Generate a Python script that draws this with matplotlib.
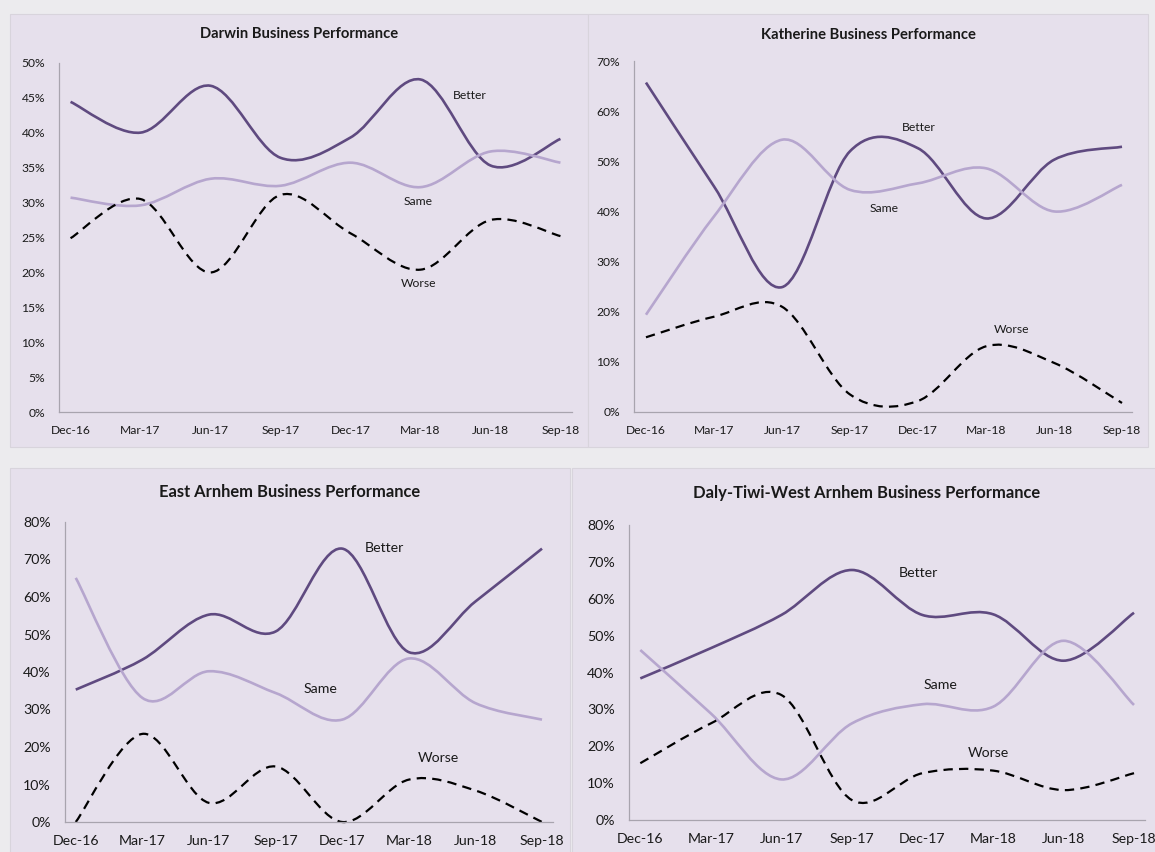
import matplotlib
matplotlib.use("Agg")
import matplotlib.pyplot as plt
from matplotlib.path import Path
from matplotlib.patches import PathPatch, Rectangle
from matplotlib.ticker import PercentFormatter

plt.rcParams['font.family'] = ['Lato', 'DejaVu Sans']

quarters = ["Dec-16", "Mar-17", "Jun-17", "Sep-17", "Dec-17", "Mar-18", "Jun-18", "Sep-18"]

darwin_better = [44.4, 40.0, 46.7, 36.4, 39.3, 47.6, 35.3, 39.1]
darwin_same   = [30.7, 29.6, 33.4, 32.4, 35.7, 32.2, 37.3, 35.7]
darwin_worse  = [24.9, 30.5, 20.0, 31.1, 25.6, 20.4, 27.5, 25.2]

katherine_better = [65.7, 45.0, 24.9, 52.0, 52.6, 38.6, 50.3, 52.9]
katherine_same   = [19.4, 39.0, 54.3, 44.3, 45.6, 48.6, 40.0, 45.3]
katherine_worse  = [14.9, 19.0, 21.0, 3.5, 2.2, 13.1, 9.8, 1.8]

east_better = [35.3, 43.3, 55.3, 50.8, 72.9, 45.3, 58.8, 72.9]
east_same   = [65.1, 33.1, 40.2, 34.4, 27.3, 43.6, 31.7, 27.3]
east_worse  = [0.0, 23.5, 5.1, 14.8, 0.0, 11.3, 8.4, 0.0]

daly_better = [38.4, 46.6, 55.6, 67.8, 55.6, 55.8, 43.2, 56.2]
daly_same   = [46.1, 28.9, 11.0, 26.2, 31.4, 30.7, 48.6, 31.2]
daly_worse  = [15.4, 26.2, 33.9, 5.4, 12.7, 13.4, 8.1, 12.7]

series_names = ["Better", "Same", "Worse"]

W, H = 1155, 852
fig = plt.figure(figsize=(W / 100, H / 100), dpi=100)
fig.patch.set_facecolor("#ECEBEE")

PANEL_BG = "#E6E0EC"
C_BETTER = "#5F4A80"
C_SAME = "#B6A6CE"
C_WORSE = "#000000"
AX_COL = "#A8A4AE"


def fig_rect(x0, y0, x1, y1):
    return [x0 / W, 1 - y1 / H, (x1 - x0) / W, (y1 - y0) / H]


def smooth_path(xs, ys):
    n = len(xs)
    pts = list(zip(xs, ys))
    verts = [pts[0]]
    codes = [Path.MOVETO]
    for i in range(n - 1):
        p0 = pts[i - 1] if i > 0 else pts[i]
        p1 = pts[i]
        p2 = pts[i + 1]
        p3 = pts[i + 2] if i + 2 < n else pts[i + 1]
        c1 = (p1[0] + (p2[0] - p0[0]) / 6, p1[1] + (p2[1] - p0[1]) / 6)
        c2 = (p2[0] - (p3[0] - p1[0]) / 6, p2[1] - (p3[1] - p1[1]) / 6)
        verts += [c1, c2, p2]
        codes += [Path.CURVE4] * 3
    return Path(verts, codes)


panels = [
    dict(box=(10, 14, 588, 447), ax=(59, 62.7, 572, 412.3), xlim=(-0.165, 7.165), ymax=50, ystep=5,
         title="Darwin Business Performance", title_xy=(299, 34), tfs=10.6, fs=8.7,
         data=[darwin_better, darwin_same, darwin_worse],
         labels=[(5.70, 45.25), (4.96, 30.2), (4.97, 18.4)]),
    dict(box=(588, 14, 1148, 447), ax=(634, 61, 1132, 412), xlim=(-0.176, 7.147), ymax=70, ystep=10,
         title="Katherine Business Performance", title_xy=(868, 35), tfs=10.6, fs=8.7,
         data=[katherine_better, katherine_same, katherine_worse],
         labels=[(4.01, 56.8), (3.5, 40.5), (5.37, 16.4)]),
    dict(box=(10, 468, 570, 860), ax=(64.7, 522, 553, 822), xlim=(-0.166, 7.165), ymax=80, ystep=10,
         title="East Arnhem Business Performance", title_xy=(290, 492), tfs=11.9, fs=10.2,
         data=[east_better, east_same, east_worse],
         labels=[(4.63, 73.1), (3.68, 35.5), (5.44, 17.1)]),
    dict(box=(572, 468, 1165, 860), ax=(628.6, 525, 1144.6, 820), xlim=(-0.166, 7.15), ymax=80, ystep=10,
         title="Daly-Tiwi-West Arnhem Business Performance", title_xy=(867, 493), tfs=11.9, fs=10.2,
         data=[daly_better, daly_same, daly_worse],
         labels=[(3.94, 67.0), (4.25, 36.6), (4.94, 18.2)]),
]

for p in panels:
    bx0, by0, bx1, by1 = p["box"]
    fig.patches.append(Rectangle((bx0 / W, 1 - by1 / H), (bx1 - bx0) / W, (by1 - by0) / H,
                                 transform=fig.transFigure, facecolor=PANEL_BG,
                                 edgecolor="#D8D4DC", linewidth=0.8, zorder=-5))
    ax = fig.add_axes(fig_rect(*p["ax"]))
    ax.set_facecolor("none")
    x = list(range(len(quarters)))
    styles = [
        dict(color=C_BETTER, lw=1.9, ls="-"),
        dict(color=C_SAME, lw=1.9, ls="-"),
        dict(color=C_WORSE, lw=1.6, ls=(0, (4.2, 2.8))),
    ]
    for vals, st in zip(p["data"], styles):
        path = smooth_path(x, vals)
        ax.add_patch(PathPatch(path, fill=False, edgecolor=st["color"], linewidth=st["lw"],
                               linestyle=st["ls"], capstyle="butt", joinstyle="round",
                               clip_on=False))
    for name, (lx, ly) in zip(series_names, p["labels"]):
        ax.text(lx, ly, name, ha="center", va="center", fontsize=p["fs"], color="#1a1a1a")
    ax.set_xlim(*p["xlim"])
    ax.set_ylim(0, p["ymax"])
    ax.set_xticks(x)
    ax.set_xticklabels(quarters)
    ax.set_yticks(list(range(0, p["ymax"] + 1, p["ystep"])))
    ax.yaxis.set_major_formatter(PercentFormatter(decimals=0))
    ax.tick_params(length=0, labelsize=p["fs"], colors="#1a1a1a", pad=10)
    ax.tick_params(axis="x", pad=9.5)
    for s in ["top", "right"]:
        ax.spines[s].set_visible(False)
    for s in ["left", "bottom"]:
        ax.spines[s].set_color(AX_COL)
        ax.spines[s].set_linewidth(0.9)
    tx, ty = p["title_xy"]
    fig.text(tx / W, 1 - ty / H, p["title"], ha="center", va="center",
             fontsize=p["tfs"], fontweight="bold", color="#1a1a1a")

fig.savefig("out.png", dpi=100, facecolor=fig.get_facecolor())
